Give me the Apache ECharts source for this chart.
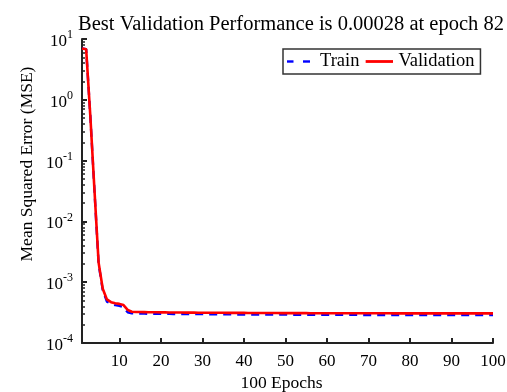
<!DOCTYPE html>
<html><head><meta charset="utf-8">
<script src="https://cdn.jsdelivr.net/npm/echarts@6/dist/echarts.min.js"></script>
<style>html,body{margin:0;padding:0;background:#fff}#c{width:507px;height:392px}</style>
</head><body><div id="c"></div>
<script>
const titleText = 'Best Validation Performance is 0.00028 at epoch 82';
const xTickValues = [10,20,30,40,50,60,70,80,90,100];
const yTickValues = [1e-4,1e-3,1e-2,1e-1,1,10];
const yMinorValues = [2e-4,3e-4,4e-4,5e-4,6e-4,7e-4,8e-4,9e-4,2e-3,3e-3,4e-3,5e-3,6e-3,7e-3,8e-3,9e-3,2e-2,3e-2,4e-2,5e-2,6e-2,7e-2,8e-2,9e-2,0.2,0.3,0.4,0.5,0.6,0.7,0.8,0.9,2,3,4,5,6,7,8,9];
const trainLoss = [7.0,6.8,0.55,0.032,0.002,0.00074,0.00048,0.00044,0.00042,0.00041,0.00039,0.00032,
 0.000308,0.000306,0.000305,0.000304,0.000303,0.000303,0.000302,0.000302,
 0.000301,0.000301,0.0003,0.0003,0.0003,0.000299,0.000299,0.000299,0.000298,0.000298,
 0.000298,0.000297,0.000297,0.000297,0.000296,0.000296,0.000296,0.000295,0.000295,0.000295,
 0.000295,0.000294,0.000294,0.000294,0.000294,0.000293,0.000293,0.000293,0.000293,0.000293,
 0.000292,0.000292,0.000292,0.000292,0.000292,0.000291,0.000291,0.000291,0.000291,0.000291,
 0.000291,0.00029,0.00029,0.00029,0.00029,0.00029,0.00029,0.00029,0.000289,0.000289,
 0.000289,0.000289,0.000289,0.000289,0.000289,0.000289,0.000289,0.000289,0.000288,0.000288,
 0.000288,0.000288,0.000288,0.000288,0.000288,0.000288,0.000288,0.000288,0.000288,0.000288,
 0.000288,0.000288,0.000288,0.000288,0.000288,0.000288,0.000288,0.000288,0.000288,0.000288];
const valLoss = [7.0,6.8,0.55,0.033,0.0021,0.00078,0.00052,0.00047,0.00045,0.00044,0.00042,0.00035,
 0.000326,0.000324,0.000323,0.000322,0.000321,0.00032,0.00032,0.000319,
 0.000319,0.000318,0.000318,0.000317,0.000317,0.000316,0.000316,0.000316,0.000315,0.000315,
 0.000315,0.000314,0.000314,0.000314,0.000314,0.000313,0.000313,0.000313,0.000313,0.000313,
 0.000312,0.000312,0.000312,0.000312,0.000312,0.000312,0.000312,0.000311,0.00031,0.00031,
 0.00031,0.00031,0.00031,0.00031,0.00031,0.000309,0.000309,0.000309,0.000309,0.000309,
 0.000309,0.000309,0.000309,0.000308,0.000308,0.000308,0.000308,0.000308,0.000308,0.000308,
 0.000308,0.000308,0.000308,0.000308,0.000308,0.000307,0.000307,0.000307,0.000307,0.000307,
 0.000307,0.000307,0.000307,0.000307,0.000307,0.000307,0.000307,0.000307,0.000307,0.000307,
 0.000307,0.000307,0.000307,0.000307,0.000307,0.000307,0.000307,0.000307,0.000307,0.000307];

const FONT = 'Liberation Serif';
const trainData = trainLoss.map((v,i)=>[i+1,v]);
const valData = valLoss.map((v,i)=>[i+1,v]);
function svgIcon(inner){
  return 'image://data:image/svg+xml;charset=utf-8,' + encodeURIComponent(
    '<svg xmlns="http://www.w3.org/2000/svg" width="28" height="10" viewBox="0 0 28 10">'+inner+'</svg>');
}
const trainIcon = svgIcon('<rect x="0" y="3.8" width="6.5" height="2.4" fill="#0000ff"/><rect x="16" y="3.8" width="7" height="2.4" fill="#0000ff"/>');
const valIcon = svgIcon('<rect x="0" y="3.6" width="28" height="2.8" fill="#ff0000"/>');
const chart = echarts.init(document.getElementById('c'));
chart.setOption({
  animation:false,
  backgroundColor:'#fff',
  textStyle:{fontFamily:FONT},
  title:{text:titleText,left:286,textAlign:'center',top:9,
    textStyle:{fontFamily:FONT,fontSize:20.5,fontWeight:'normal',color:'#000'}},
  legend:{left:283,top:49,itemWidth:28,itemHeight:10,itemGap:6,padding:[3,6,3,4],
    borderColor:'#333',borderWidth:1.5,backgroundColor:'#fff',
    textStyle:{fontFamily:FONT,fontSize:18.5,color:'#000'},
    data:[{name:'Train',icon:trainIcon},{name:'Validation',icon:valIcon}]},
  grid:{left:82,right:14,top:39,bottom:49,containLabel:false,outerBoundsMode:'none'},
  xAxis:{type:'value',min:1,max:100,
    name:'100 Epochs',nameLocation:'middle',nameGap:31,nameMoveOverlap:false,
    nameTextStyle:{fontFamily:FONT,fontSize:17.5,color:'#000',padding:[0,12,0,0],verticalAlign:'top'},
    axisLine:{lineStyle:{color:'#222',width:2}},
    axisTick:{inside:true,length:5,lineStyle:{color:'#222',width:2},customValues:xTickValues},
    axisLabel:{customValues:xTickValues,fontFamily:FONT,fontSize:17,color:'#000',margin:10},
    splitLine:{show:false}},
  yAxis:[{type:'log',logBase:10,min:1e-4,max:10,
    name:'Mean Squared Error (MSE)',nameLocation:'middle',nameGap:46,nameMoveOverlap:false,
    nameTextStyle:{fontFamily:FONT,fontSize:17.5,color:'#000',padding:[0,0,0,54]},
    axisLine:{lineStyle:{color:'#222',width:2}},
    axisTick:{inside:true,length:5,lineStyle:{color:'#222',width:2},customValues:yTickValues},
    axisLabel:{customValues:yTickValues,margin:9,
      formatter:function(v){const e=Math.round(Math.log10(v));return '{b|10}{s|'+e+'}';},
      rich:{b:{fontFamily:FONT,fontSize:17,color:'#000',padding:[5,0,0,0]},
            s:{fontFamily:FONT,fontSize:12,color:'#000',padding:[0,0,8,0]}}},
    splitLine:{show:false}},
   {type:'log',logBase:10,min:1e-4,max:10,position:'left',
    axisLine:{show:false},
    axisTick:{inside:true,length:3,lineStyle:{color:'#222',width:1.5},customValues:yMinorValues},
    axisLabel:{show:false},splitLine:{show:false}}],
  series:[
    {name:'Train',type:'line',data:trainData,symbol:'none',yAxisIndex:0,
     lineStyle:{color:'#0000ff',width:2.4,type:[8,6]},itemStyle:{color:'#0000ff'}},
    {name:'Validation',type:'line',data:valData,symbol:'none',yAxisIndex:0,
     lineStyle:{color:'#ff0000',width:2.6},itemStyle:{color:'#ff0000'}}
  ]
});
</script></body></html>
